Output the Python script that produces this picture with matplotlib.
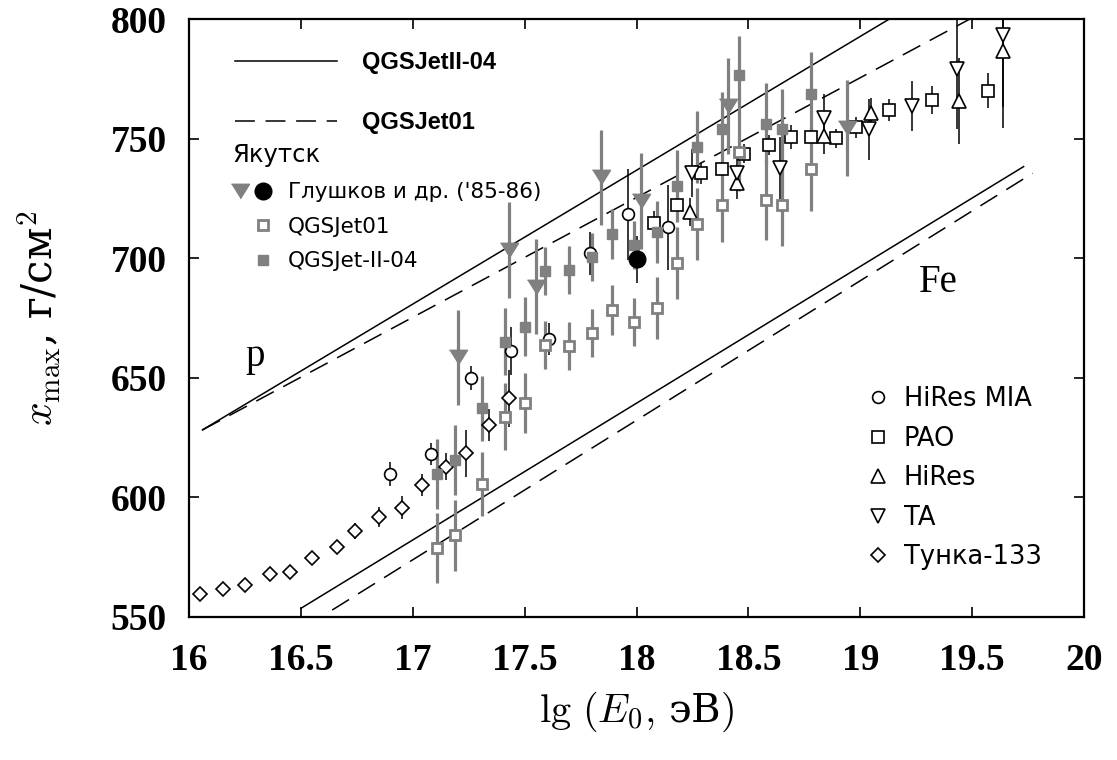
import matplotlib.pyplot as plt
from matplotlib.lines import Line2D
from matplotlib.legend_handler import HandlerTuple

plt.rcParams['mathtext.fontset'] = 'cm'
plt.rcParams['font.family'] = ['DejaVu Sans']

# model predictions (solid: QGSJetII-04, dashed: QGSJet01)
p_q2_x = [16.06, 19.13]
p_q2_y = [628.2, 800.0]
p_q1_x = [16.06, 19.49]
p_q1_y = [628.2, 800.0]
fe_q2_x = [16.50, 19.73]
fe_q2_y = [553.6, 738.3]
fe_q1_x = [16.64, 19.77]
fe_q1_y = [552.9, 735.5]

# Tunka-133
tunka_x = [16.05, 16.15, 16.25, 16.36, 16.45, 16.55, 16.66, 16.74, 16.85, 16.95,
           17.04, 17.15, 17.24, 17.34, 17.43]
tunka_y = [559.6, 561.8, 563.2, 567.8, 568.7, 574.5, 579.4, 585.8, 591.9, 595.7,
           605.2, 612.8, 618.4, 630.3, 641.4]
tunka_err = [1, 1, 1, 1, 1, 1, 2, 3.3, 4.2, 4.9, 4.7, 5.6, 9.8, 6.6, 12]

# HiRes MIA
mia_x = [16.90, 17.08, 17.26, 17.44, 17.61, 17.79, 17.96, 18.14]
mia_y = [609.8, 618.1, 650.0, 661.2, 666.1, 702.0, 718.4, 712.9]
mia_err = [5.1, 4.7, 4.9, 10, 6.6, 9, 19, 17.8]

# PAO
pao_x = [18.08, 18.18, 18.29, 18.38, 18.48, 18.59, 18.69, 18.78, 18.89, 18.98,
         19.13, 19.32, 19.57]
pao_y = [714.9, 722.2, 735.5, 737.3, 743.6, 747.3, 750.8, 750.5, 750.1, 754.7,
         762.0, 766.1, 770.0]
pao_err = [5, 5, 4.5, 4, 4, 4, 5, 4, 4, 4.5, 4.7, 6, 7.3]

# HiRes
hires_x = [18.24, 18.45, 18.84, 19.05, 19.44, 19.64]
hires_y = [719.3, 731.6, 751.2, 760.8, 765.9, 786.6]
hires_err = [6, 7, 7.5, 6, 18, 32]

# TA
ta_x = [18.25, 18.45, 18.64, 18.84, 19.04, 19.23, 19.43, 19.64]
ta_y = [735.7, 735.5, 737.6, 758.5, 753.9, 763.6, 779.2, 793.3]
ta_err = [10, 7.5, 13, 10, 12.7, 10.3, 25, 30]

# Yakutsk, Glushkov et al. ('85-86)
gl_x = [17.20, 17.43, 17.55, 17.84, 18.02, 18.41, 18.94]
gl_y = [658.5, 703.4, 688.1, 733.8, 724.0, 763.5, 754.3]
gl_err = [20, 20, 20, 20, 20, 20, 20]
glc_x = [18.00]
glc_y = [699.5]
glc_err = [9.7]

# Yakutsk, interpreted with QGSJet01 / QGSJet-II-04
yk_x = [17.11, 17.19, 17.31, 17.41, 17.50, 17.59, 17.70, 17.80, 17.89, 17.99,
        18.09, 18.18, 18.27, 18.38, 18.46, 18.58, 18.65, 18.78]
yk_q2_y = [609.8, 615.6, 637.2, 665.1, 671.4, 694.8, 695.1, 700.4, 710.1, 705.5,
           711.1, 730.2, 746.4, 754.0, 776.6, 756.3, 753.9, 768.7]
yk_q1_y = [578.7, 584.1, 605.6, 633.7, 639.3, 663.7, 663.4, 668.6, 678.3, 673.2,
           679.1, 698.1, 714.2, 722.2, 744.5, 724.4, 722.2, 737.2]
yk_err = [14.6, 14.7, 13.5, 14, 12.5, 10, 10, 10, 10.5, 10,
          13, 15, 15, 15.5, 16.5, 17, 17, 17.5]

xticks = [16, 16.5, 17, 17.5, 18, 18.5, 19, 19.5, 20]
xtick_labels = ['16', '16.5', '17', '17.5', '18', '18.5', '19', '19.5', '20']
yticks = [550, 600, 650, 700, 750, 800]

gray = '#808080'
tri_down = [(-1, 0.8), (1, 0.8), (0, -0.8)]

fig = plt.figure(figsize=(11.17, 7.6), dpi=100)
ax = fig.add_axes([0.1692, 0.1882, 0.8013, 0.7868])

l_q2, = ax.plot(p_q2_x, p_q2_y, color='black', lw=1.1)
l_q1, = ax.plot(p_q1_x, p_q1_y, color='black', lw=1.1, ls=(0, (13, 7)))
ax.plot(fe_q2_x, fe_q2_y, color='black', lw=1.1)
ax.plot(fe_q1_x, fe_q1_y, color='black', lw=1.1, ls=(0, (13, 7)))

blk = dict(ecolor='black', elinewidth=1.1, capsize=0, mfc='white', mec='black',
           mew=1.2, ls='none')
ax.errorbar(tunka_x, tunka_y, yerr=tunka_err, fmt='D', ms=7, **blk)
ax.errorbar(mia_x, mia_y, yerr=mia_err, fmt='o', ms=8.5, **blk)
ax.errorbar(pao_x, pao_y, yerr=pao_err, fmt='s', ms=9, **blk)
ax.errorbar(hires_x, hires_y, yerr=hires_err, fmt='^', ms=10, **blk)
ax.errorbar(ta_x, ta_y, yerr=ta_err, fmt='v', ms=10, **blk)

gry = dict(ecolor=gray, elinewidth=2.3, capsize=0, ls='none')
ax.errorbar(yk_x, yk_q1_y, yerr=yk_err, fmt='s', ms=7.5, mfc='white',
            mec=gray, mew=2, **gry)
ax.errorbar(yk_x, yk_q2_y, yerr=yk_err, fmt='s', ms=7, mfc=gray, mec=gray, **gry)
ax.errorbar(gl_x, gl_y, yerr=gl_err, marker=tri_down, ms=13, mfc=gray,
            mec=gray, **gry)
ax.errorbar(glc_x, glc_y, yerr=glc_err, fmt='o', ms=12, mfc='black',
            mec='black', ecolor='black', elinewidth=1.1, capsize=0)

ax.text(16.25, 654.8, 'p', fontsize=28, family='Liberation Serif')
ax.text(19.26, 685.9, 'Fe', fontsize=28, family='Liberation Serif')

ax.set_xlim(16, 20)
ax.set_ylim(550, 800)
ax.set_xticks(xticks)
ax.set_xticklabels(xtick_labels)
ax.set_yticks(yticks)
ax.tick_params(direction='in', length=7, width=1.2, top=True, right=True,
               labelsize=27)
ax.tick_params(axis='y', pad=16)
ax.tick_params(axis='x', pad=19)
for lbl in ax.get_xticklabels() + ax.get_yticklabels():
    lbl.set_fontfamily('Liberation Serif')
    lbl.set_fontweight('bold')
for s in ax.spines.values():
    s.set_linewidth(1.6)

ax.set_xlabel(r'$\lg\,(E_0,\,$эВ$)$', fontsize=29,
              family='DejaVu Serif', labelpad=8)
ax.set_ylabel(r'$x_{\rm max}$, г/см$^2$', fontsize=30, family='DejaVu Serif',
              labelpad=34)

# legends
leg1 = ax.legend([l_q2, l_q1], ['QGSJetII-04', 'QGSJet01'], loc='upper left',
                 bbox_to_anchor=(0.0514, 0.9465), frameon=False, borderpad=0,
                 borderaxespad=0, handlelength=4.3, handletextpad=1.06,
                 labelspacing=1.57,
                 prop={'family': 'Liberation Sans', 'weight': 'bold', 'size': 17})
ax.add_artist(leg1)

empty = Line2D([], [], ls='none')
mk_gl = Line2D([], [], ls='none', marker=tri_down, ms=13, mfc=gray, mec=gray)
mk_glc = Line2D([], [], ls='none', marker='o', ms=12, mfc='black', mec='black')
mk_q1 = Line2D([], [], ls='none', marker='s', ms=7.5, mfc='white', mec=gray, mew=2)
mk_q2 = Line2D([], [], ls='none', marker='s', ms=7, mfc=gray, mec=gray)
leg2 = ax.legend([(mk_gl, mk_glc), (empty, mk_q1), (empty, mk_q2)],
                 ["Глушков и др. ('85-86)", 'QGSJet01', 'QGSJet-II-04'],
                 title='Якутск', title_fontsize=17.5, alignment='left',
                 loc='upper left', bbox_to_anchor=(0.048, 0.7918), frameon=False,
                 borderpad=0, borderaxespad=0, handlelength=1.81,
                 handletextpad=0.79, labelspacing=0.68, fontsize=15.5,
                 handler_map={tuple: HandlerTuple(ndivide=None, pad=0.33)})
ax.add_artist(leg2)

mk = dict(ls='none', mfc='white', mec='black', mew=1.2)
ax.legend([Line2D([], [], marker='o', ms=8.5, **mk),
           Line2D([], [], marker='s', ms=9, **mk),
           Line2D([], [], marker='^', ms=10, **mk),
           Line2D([], [], marker='v', ms=10, **mk),
           Line2D([], [], marker='D', ms=7, **mk)],
          ['HiRes MIA', 'PAO', 'HiRes', 'TA', 'Тунка-133'],
          loc='upper left', bbox_to_anchor=(0.7564, 0.3855), frameon=False,
          borderpad=0, borderaxespad=0, handlelength=0.92, handletextpad=0.54,
          labelspacing=0.52, fontsize=18.5, numpoints=1)

fig.savefig('out.png', dpi=100)
